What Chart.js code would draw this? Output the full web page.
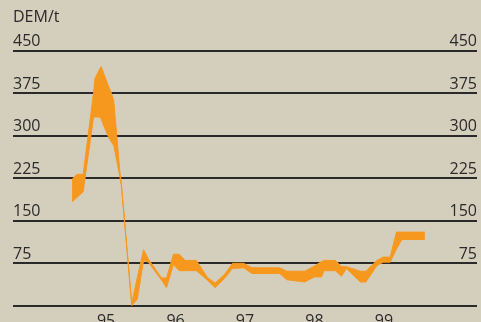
<!DOCTYPE html>
<html>
<head>
<meta charset="utf-8">
<script src="https://cdn.jsdelivr.net/npm/chart.js@4"></script>
<style>
  html, body { margin: 0; padding: 0; overflow: hidden; background: #d4cfbd; }
  canvas { display: block; }
</style>
</head>
<body>
<canvas id="priceChart" width="481" height="339"></canvas>
<script>
// monthly price range, DEM per tonne (time in decimal years)
const times = [94.51, 94.58, 94.67, 94.82, 94.84, 94.91, 94.93, 95.03, 95.08, 95.11,
  95.20, 95.22, 95.37, 95.45, 95.54, 95.61, 95.80, 95.87, 95.97, 96.05,
  96.14, 96.30, 96.46, 96.57, 96.71, 96.82, 96.98, 97.10, 97.50, 97.60,
  97.86, 98.00, 98.10, 98.14, 98.30, 98.39, 98.46, 98.66, 98.74, 98.90,
  98.99, 99.09, 99.18, 99.26, 99.59];
const high = [223, 232, 232, 376, 401, 418, 422, 389, 374, 362,
  235, 216, 5, 50, 99, 82, 49, 49, 91, 91,
  80, 80, 50, 40, 56, 75, 75, 67, 67, 61,
  61, 70, 78, 80, 80, 69, 69, 61, 61, 80,
  86, 86, 130, 130, 130];
const low = [183, 191, 201, 333, 333, 333, 329, 299, 288, 283,
  227, 212, 0, 12, 80, 77, 45, 32, 73, 62,
  62, 62, 45, 32, 49, 66, 67, 57, 57, 46,
  42, 51, 51, 62, 62, 52, 66, 42, 42, 71,
  77, 77, 100, 117, 117];
const yearTicks = [95, 96, 97, 98, 99];
const priceTicks = [0, 75, 150, 225, 300, 375, 450];

const orange = '#f7981e';
const ink = '#2a2a2a';
const font = { family: '"Open Sans", sans-serif', size: 16 };

const pts = arr => arr.map((v, i) => ({ x: times[i], y: v }));

const yTicks = {
  mirror: true,
  padding: 0,
  labelOffset: -9,
  autoSkip: false,
  color: ink,
  font: font,
  callback: v => (v === 0 ? '' : v)
};

new Chart(document.getElementById('priceChart'), {
  type: 'line',
  data: {
    datasets: [
      {
        data: pts(high),
        borderColor: orange,
        borderWidth: 1,
        pointRadius: 0,
        fill: false
      },
      {
        data: pts(low),
        borderColor: orange,
        backgroundColor: orange,
        borderWidth: 1,
        pointRadius: 0,
        fill: '-1'
      }
    ]
  },
  options: {
    responsive: false,
    animation: false,
    layout: { padding: { left: 13, right: 4, top: 0, bottom: 10 } },
    plugins: {
      legend: { display: false },
      tooltip: { enabled: false },
      title: {
        display: true,
        text: 'DEM/t',
        align: 'start',
        color: ink,
        font: { family: '"Open Sans", sans-serif', size: 16, weight: 'normal' },
        padding: { top: 8, bottom: 23.5 }
      }
    },
    scales: {
      x: {
        type: 'linear',
        min: 93.66,
        max: 100.34,
        afterBuildTicks: axis => { axis.ticks = yearTicks.map(v => ({ value: v })); },
        grid: { display: false },
        border: { display: false },
        ticks: { padding: -2, color: ink, font: font, autoSkip: false }
      },
      y: {
        position: 'left',
        min: 0,
        max: 450,
        afterBuildTicks: axis => { axis.ticks = priceTicks.map(v => ({ value: v })); },
        grid: { color: ink, lineWidth: 2, drawTicks: false },
        border: { display: false },
        ticks: yTicks
      },
      y2: {
        position: 'right',
        min: 0,
        max: 450,
        afterBuildTicks: axis => { axis.ticks = priceTicks.map(v => ({ value: v })); },
        grid: { display: false, drawTicks: false },
        border: { display: false },
        ticks: yTicks
      }
    }
  }
});
</script>
</body>
</html>
